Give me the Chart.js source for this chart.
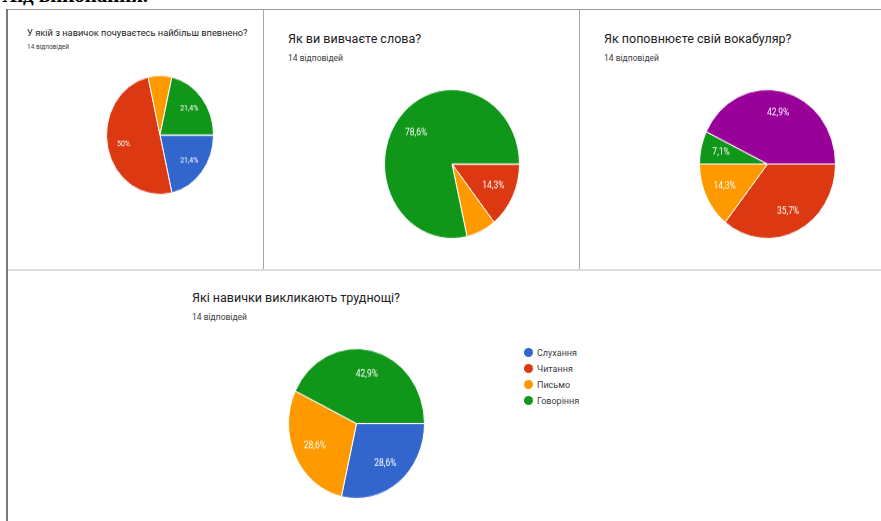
<!DOCTYPE html>
<html>
<head>
<meta charset="utf-8">
<script src="https://cdn.jsdelivr.net/npm/chart.js@4/dist/chart.umd.min.js"></script>
<style>
  html, body { margin: 0; padding: 0; background: #fff; }
  body { width: 881px; height: 521px; position: relative; overflow: hidden; font-family: Roboto, "Noto Sans", sans-serif; }
  .heading { position: absolute; left: 2px; top: -17px; font: bold 21px "Liberation Serif", serif; color: #000; white-space: nowrap; }
  .line { position: absolute; }
  .title { position: absolute; color: #202124; white-space: nowrap; }
  .sub { position: absolute; color: #3c4043; white-space: nowrap; }
  .pie { position: absolute; }
  .pie canvas { transform-origin: 0 0; }
  #legend { position: absolute; left: 524px; top: 346px; font-size: 9px; color: #3c4043; }
  #legend div { height: 16px; line-height: 14px; white-space: nowrap; }
  #legend span { display: inline-block; width: 9px; height: 9px; border-radius: 50%; vertical-align: -1px; margin-right: 4px; }
</style>
</head>
<body>

<div class="heading">Хід виконання.</div>

<!-- panel frames -->
<div class="line" style="left:7px; top:9px; width:874px; height:1px; background:#9a9a9a"></div>
<div class="line" style="left:6px; top:9px; width:2px; height:512px; background:#7a7a7a"></div>
<div class="line" style="left:263px; top:10px; width:1px; height:259px; background:#a8a8a8"></div>
<div class="line" style="left:579px; top:10px; width:1px; height:259px; background:#a8a8a8"></div>
<div class="line" style="left:8px; top:269px; width:873px; height:2px; background:#dcdcdc"></div>

<div class="title" style="left:27px; top:27px; font-size:9.3px">У якій з навичок почуваєтесь найбільш впевнено?</div>
<div class="sub" style="left:27px; top:43px; font-size:6.5px">14 відповідей</div>
<div class="pie" id="pie1"><canvas id="c1"></canvas></div>

<div class="title" style="left:288px; top:31px; font-size:12.5px">Як ви вивчаєте слова?</div>
<div class="sub" style="left:288px; top:53px; font-size:8.5px">14 відповідей</div>
<div class="pie" id="pie2"><canvas id="c2"></canvas></div>

<div class="title" style="left:604px; top:31px; font-size:12.5px">Як поповнюєте свій вокабуляр?</div>
<div class="sub" style="left:604px; top:53px; font-size:8.5px">14 відповідей</div>
<div class="pie" id="pie3"><canvas id="c3"></canvas></div>

<div class="title" style="left:192px; top:290px; font-size:12.5px">Які навички викликають труднощі?</div>
<div class="sub" style="left:192px; top:312px; font-size:8.5px">14 відповідей</div>
<div class="pie" id="pie4"><canvas id="c4"></canvas></div>
<div id="legend"></div>

<script>
// Answer options and counts (out of 14 responses) for each question
var skills = ['Слухання', 'Читання', 'Письмо', 'Говоріння'];
var vocabSources = ['Слухання', 'Читання', 'Письмо', 'Говоріння', 'Інше'];

var confidentCounts = [3, 7, 1, 3];
var wordStudyCounts = [0, 2, 1, 11];
var vocabCounts = [0, 5, 2, 1, 6];
var difficultCounts = [4, 0, 4, 6];

var sliceColors = ['#3366cc', '#dc3912', '#ff9900', '#109618', '#990099'];

/* Percent text like "21,4%" / "50%" */
function formatPct(share) {
    var s = (share * 100).toFixed(1).replace(/\.0$/, '');
    return s.replace('.', ',') + '%';
}

/* White percent labels inside the slices */
var sliceLabels = {
    id: 'sliceLabels',
    afterDatasetsDraw: function(chart, args, opts) {
        var ctx = chart.ctx;
        var values = chart.data.datasets[0].data;
        var total = values.reduce(function(a, b) { return a + b; }, 0);
        ctx.save();
        ctx.fillStyle = '#fff';
        ctx.font = opts.size + 'px Roboto, sans-serif';
        ctx.textAlign = 'center';
        ctx.textBaseline = 'middle';
        chart.getDatasetMeta(0).data.forEach(function(arc, i) {
            var share = values[i] / total;
            if (share < opts.min) return;
            var p = arc.getProps(['x', 'y', 'startAngle', 'endAngle', 'outerRadius'], true);
            var mid = (p.startAngle + p.endAngle) / 2;
            var r = p.outerRadius * opts.dist;
            ctx.fillText(formatPct(share), p.x + Math.cos(mid) * r, p.y + Math.sin(mid) * r);
        });
        ctx.restore();
    }
};

/* Draw one pie; box = centre and the drawn width/height */
function makePie(id, labels, values, box, labelOpts) {
    var wrap = document.getElementById('pie' + id);
    var canvas = document.getElementById('c' + id);
    wrap.style.left = (box.cx - box.w / 2) + 'px';
    wrap.style.top = (box.cy - box.h / 2) + 'px';
    canvas.width = box.w;
    canvas.height = box.w;
    canvas.style.transform = 'scaleY(' + (box.h / box.w) + ')';

    return new Chart(canvas.getContext('2d'), {
        type: 'pie',
        data: {
            labels: labels,
            datasets: [{
                data: values,
                backgroundColor: sliceColors.slice(0, values.length),
                borderColor: '#ffffff',
                borderWidth: 1
            }]
        },
        options: {
            responsive: false,
            animation: false,
            events: [],
            rotation: 90,
            layout: { padding: 0 },
            plugins: {
                legend: { display: false },
                tooltip: { enabled: false },
                sliceLabels: labelOpts
            }
        },
        plugins: [sliceLabels]
    });
}

function init() {
    makePie(1, skills, confidentCounts, { cx: 160, cy: 135, w: 108, h: 120 }, { min: 0.1, size: 7, dist: 0.7 });
    makePie(2, skills, wordStudyCounts, { cx: 451.5, cy: 164, w: 136, h: 150 }, { min: 0.1, size: 8.5, dist: 0.68 });
    makePie(3, vocabSources, vocabCounts, { cx: 767.5, cy: 164, w: 137, h: 150 }, { min: 0.05, size: 8.5, dist: 0.7 });
    makePie(4, skills, difficultCounts, { cx: 356.5, cy: 423.5, w: 137, h: 151 }, { min: 0.1, size: 8.5, dist: 0.68 });

    // legend for the last question
    var legend = document.getElementById('legend');
    skills.forEach(function(name, i) {
        var row = document.createElement('div');
        row.innerHTML = '<span style="background:' + sliceColors[i] + '"></span>' + name;
        legend.appendChild(row);
    });
}

init();
</script>
</body>
</html>
